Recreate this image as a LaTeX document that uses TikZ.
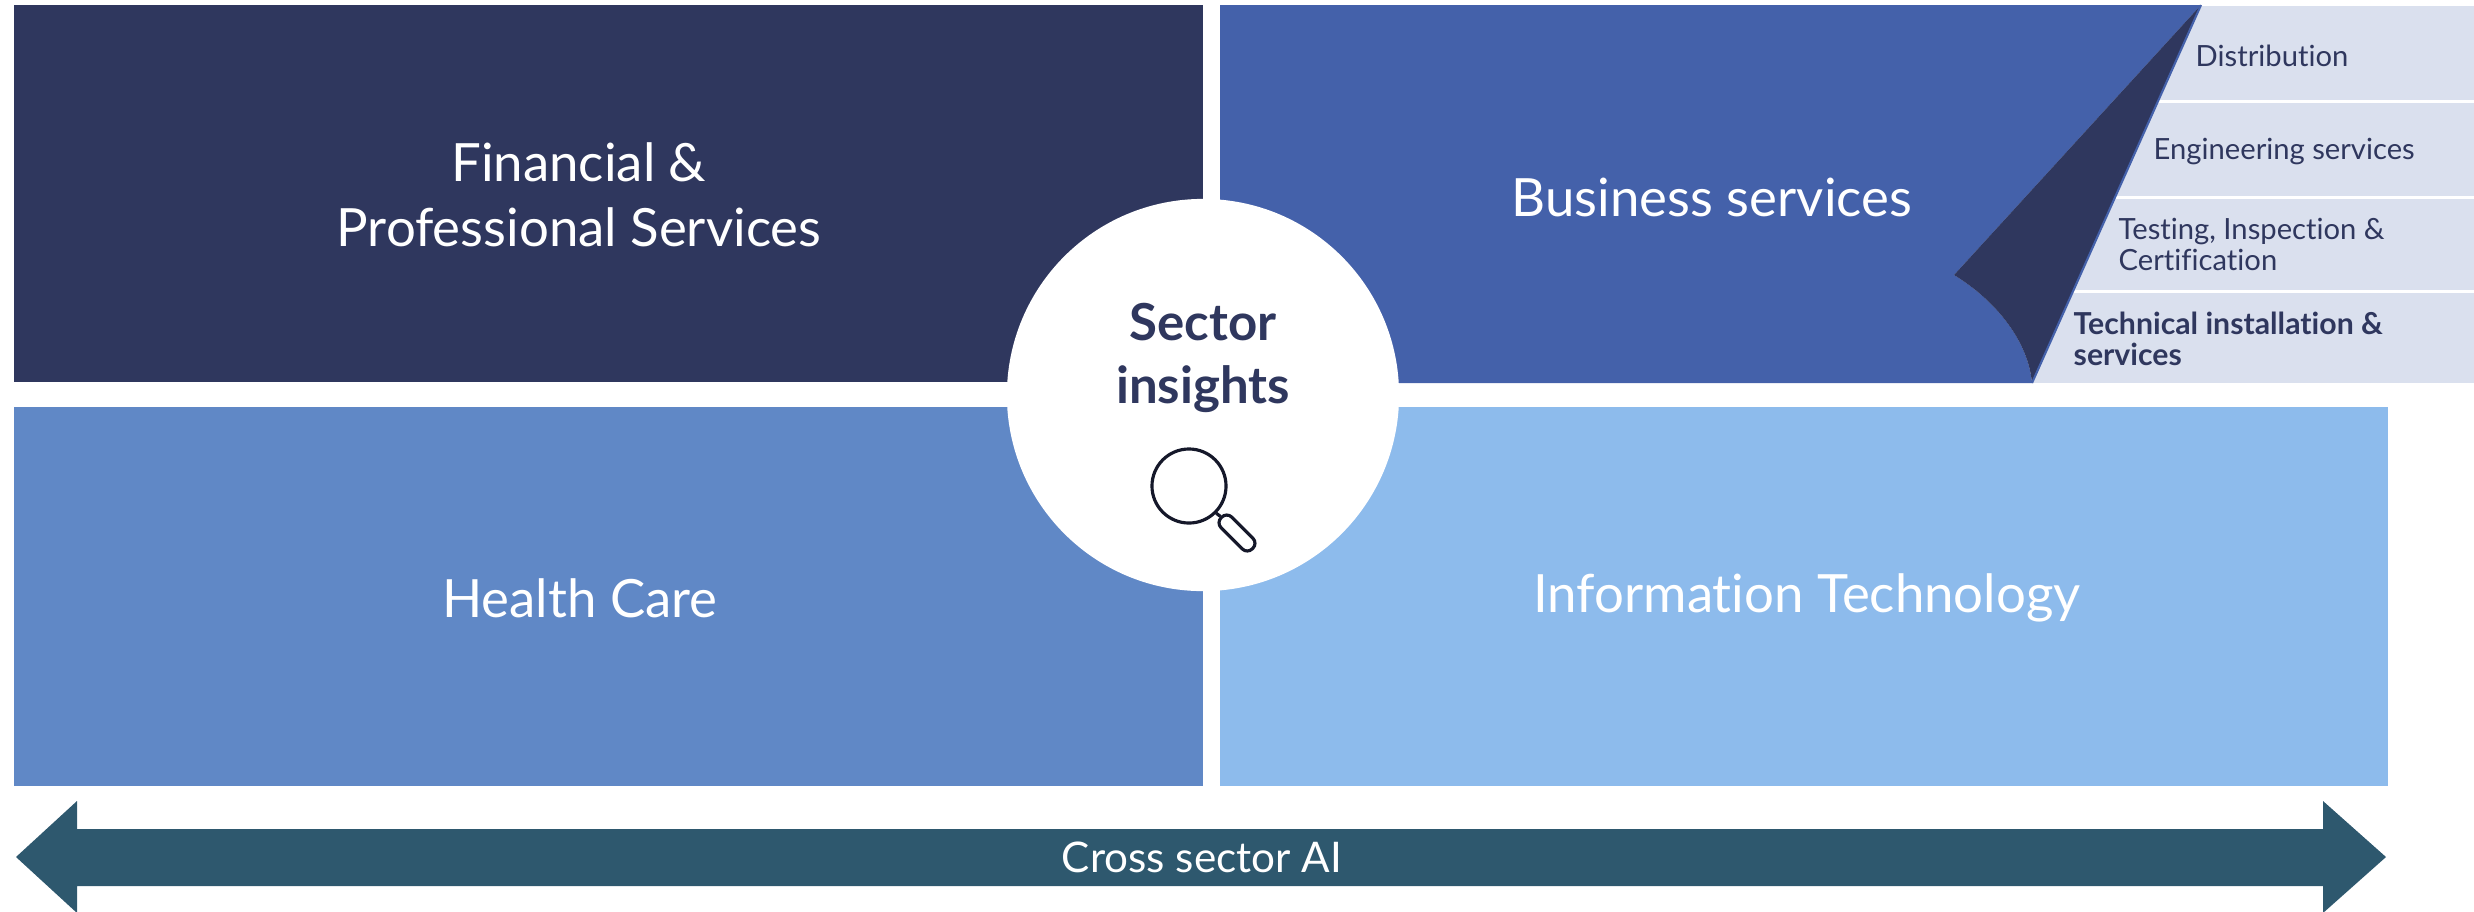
\documentclass[tikz,border=0pt]{standalone}
\usepackage{fontspec}
\setmainfont{Lato}[Ligatures={NoCommon}]
\usetikzlibrary{positioning}
\definecolor{navy}{HTML}{2F375E}
\definecolor{bizblue}{HTML}{4461AA}
\definecolor{careblue}{HTML}{6088C6}
\definecolor{itblue}{HTML}{8DBBEC}
\definecolor{stripgrey}{HTML}{DAE0EE}
\definecolor{aiteal}{HTML}{2E586E}
\definecolor{inkblack}{HTML}{15182A}
\tikzset{
  boxtext/.style={text=white, font=\fontsize{15}{18.5}\selectfont, align=center},
  striptext/.style={text=navy, font=\fontsize{8.3}{8.8}\selectfont, align=left, anchor=west, inner sep=0pt},
}
\begin{document}
\begin{tikzpicture}[x=0.01cm, y=-0.01cm]
      \useasboundingbox (0,0) rectangle (2474,911);

      \fill[navy] (14,5) rectangle (1203,382);
      \fill[careblue] (14,407) rectangle (1203,786);
      \fill[itblue] (1220,407) rectangle (2388,786);

      \fill[stripgrey] (1950,6) rectangle (2474,100);
      \fill[stripgrey] (1950,103) rectangle (2474,196);
      \fill[stripgrey] (1950,199) rectangle (2474,290);
      \fill[stripgrey] (1950,293) rectangle (2474,383);

      \fill[bizblue] (1220,5) -- (2201,5) -- (1954,275)
        .. controls (1995,300) and (2028,340) .. (2032,383) -- (1220,383) -- cycle;
      \fill[navy] (2201,5) -- (1954,275)
        .. controls (1995,300) and (2028,340) .. (2032,383) -- cycle;
      \draw[bizblue, line width=0.6pt] (2032,383) -- (2201,5);

      \node[boxtext] (finance) at (579,195) {Financial \&\\Professional Services};
      \node[boxtext] (business) at (1712,197) {Business services};
      \node[boxtext] (care) at (580,598) {Health Care};
      \node[boxtext] (infotech) at (1807,598) {Information Technology};

      \node[striptext] (distrib) at (2195,56) {Distribution};
      \node[striptext] (engserv) at (2153,152) {Engineering services};
      \node[striptext] (testing) at (2118,244) {Testing, Inspection \&\\Certification};
      \node[striptext, font=\bfseries\fontsize{8.6}{8.8}\selectfont] (techinst) at (2073,339) {Technical installation \&\\services};

      \node[circle, fill=white, minimum size=3.92cm, inner sep=0pt] (hub) at (1203,395) {};
      \node[text=navy, font=\bfseries\fontsize{14.5}{17.9}\selectfont, align=center] (insights) at (1203,358) {Sector\\insights};

      \node[circle, draw=inkblack, line width=0.9pt, minimum size=0.74cm, inner sep=0pt] (lens) at (1189,486) {};
      \node[draw=inkblack, line width=0.9pt, rounded corners=0.07cm, rotate=-45,
        minimum width=0.44cm, minimum height=0.15cm, inner sep=0pt] (handle) at (1237,533) {};
      \draw[inkblack, line width=0.9pt] (lens.-45) -- (handle.west);

      \fill[aiteal] (16,857) -- (77,801) -- (77,829) -- (2323,829) -- (2323,801) -- (2386,857)
        -- (2323,913) -- (2323,886) -- (77,886) -- (77,913) -- cycle;
      \node[text=white, font=\fontsize{12}{14}\selectfont] (crossai) at (1202,857) {Cross sector AI};

    \end{tikzpicture}
\end{document}
